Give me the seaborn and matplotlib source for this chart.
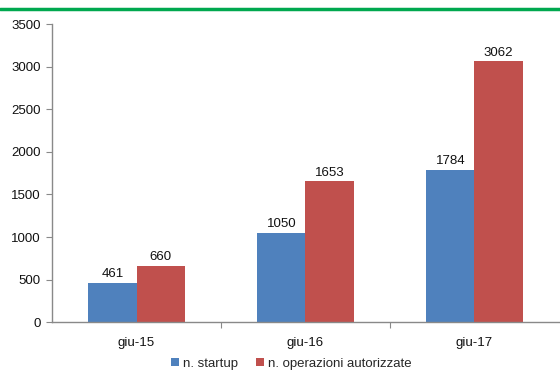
import matplotlib
matplotlib.use("Agg")
import matplotlib.pyplot as plt
from matplotlib.lines import Line2D
from matplotlib.patches import Patch
import seaborn as sns
import pandas as pd

periods = ["giu-15", "giu-16", "giu-17"]
startup = [461, 1050, 1784]
operazioni = [660, 1653, 3062]
series_names = ["n. startup", "n. operazioni autorizzate"]
colors = ["#4f81bd", "#c0504d"]

df = pd.DataFrame({
    "periodo": periods * 2,
    "valore": startup + operazioni,
    "serie": [series_names[0]] * 3 + [series_names[1]] * 3,
})

sns.set_theme(style="white")
plt.rcParams["font.family"] = ["Liberation Sans", "DejaVu Sans"]

fig = plt.figure(figsize=(5.6, 3.72), dpi=100)
ax = fig.add_axes([0.093, 0.134, 0.905, 0.801])

sns.barplot(data=df, x="periodo", y="valore", hue="serie", palette=colors,
            width=0.57, ax=ax, legend=False, saturation=1, edgecolor="none")

for cont in ax.containers:
    ax.bar_label(cont, fmt="%d", padding=2, fontsize=9.5, color="#111111")

ax.set_xlim(-0.5, 2.5)
ax.set_ylim(0, 3500)
ax.set_yticks(range(0, 3501, 500))
ax.set_xlabel("")
ax.set_ylabel("")

for side in ["top", "right"]:
    ax.spines[side].set_visible(False)
for side in ["left", "bottom"]:
    ax.spines[side].set_color("#898989")
    ax.spines[side].set_linewidth(1)

ax.tick_params(axis="y", left=True, length=4, width=0.8, color="#898989",
               labelsize=9.5, labelcolor="#111111", pad=4)
ax.tick_params(axis="x", bottom=False, labelsize=9.5, labelcolor="#111111", pad=5)
ax.set_xticks([0.5, 1.5], minor=True)
ax.tick_params(axis="x", which="minor", bottom=True, length=4, width=0.8,
               color="#898989")

handles = [Patch(facecolor=c, edgecolor="none") for c in colors]
fig.legend(handles, series_names, loc="center", bbox_to_anchor=(0.52, 0.022),
           ncol=2, frameon=False, fontsize=9.5, handlelength=0.6,
           handleheight=0.6, handletextpad=0.3, columnspacing=1.4)

fig.add_artist(Line2D([0, 1], [0.976, 0.976], transform=fig.transFigure,
                      color="#00a84f", linewidth=2.5))

fig.savefig("out.png", dpi=100)
